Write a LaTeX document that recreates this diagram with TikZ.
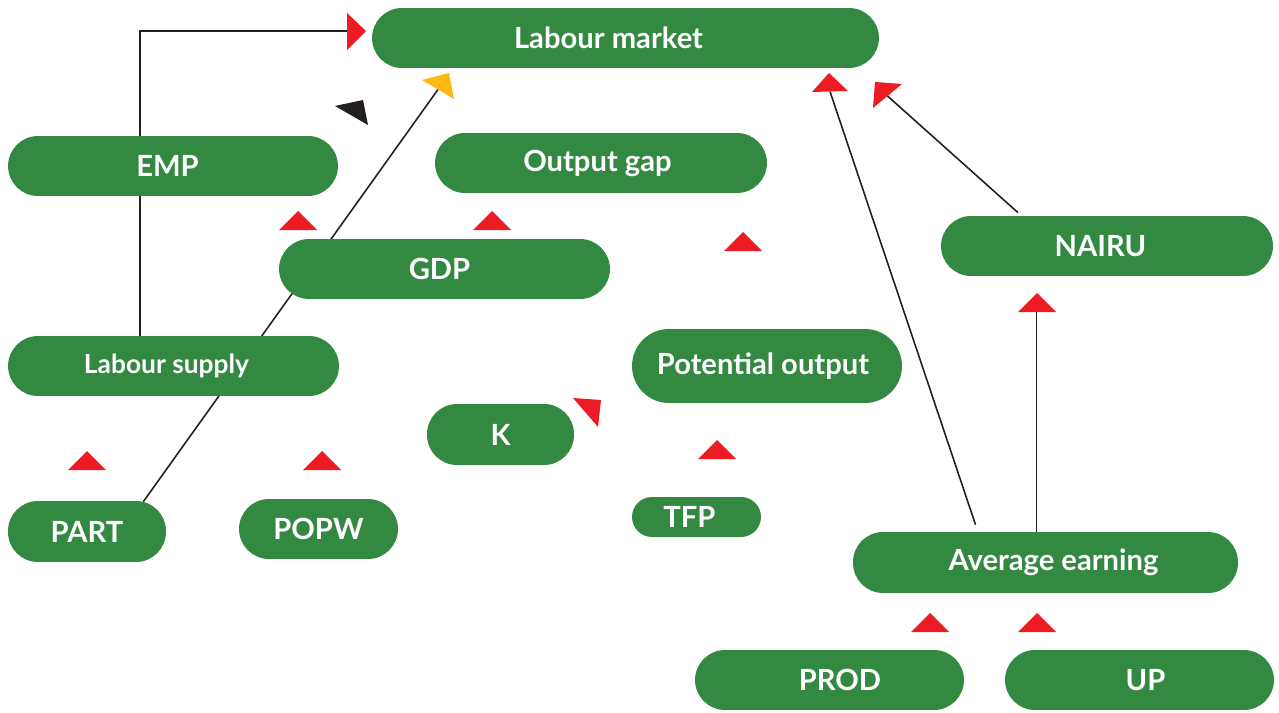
\documentclass[tikz,border=0pt]{standalone}
\usepackage{fontspec}
\setmainfont{Lato}
\usetikzlibrary{positioning,backgrounds}

\definecolor{boxgreen}{RGB}{51,136,66}
\definecolor{tipred}{RGB}{237,28,36}
\definecolor{tipyellow}{RGB}{253,185,19}
\definecolor{tipblack}{RGB}{35,31,32}

\begin{document}
\begin{tikzpicture}[x=0.02cm,y=-0.02cm,
box/.style={fill=boxgreen, text=white, inner sep=0pt, rounded corners=0.6cm,
  minimum height=1.2cm, font=\fontsize{16.6}{19}\selectfont\bfseries},
link/.style={draw=tipblack, line width=0.9pt}
]
\path[use as bounding box] (0,0) rectangle (1279,713);

% boxes
\node[box, minimum width=10.14cm] (market) at (625.5,38) {Labour market\kern0.68cm};
\node[box, minimum width=6.6cm] (emp) at (173,166) {EMP\kern0.22cm};
\node[box, minimum width=6.64cm] (gap) at (601,163) {Output gap\kern0.14cm};
\node[box, minimum width=6.62cm] (gdp) at (444.5,269) {GDP\kern0.2cm};
\node[box, minimum width=6.64cm] (nairu) at (1107,246) {NAIRU\kern0.26cm};
\node[box, minimum width=6.62cm, font=\fontsize{15}{18}\selectfont\bfseries] (supply) at (173.5,366) {Labour supply\kern0.28cm};
\node[box, minimum width=5.4cm, minimum height=1.48cm, rounded corners=0.74cm] (potential) at (767,366) {Potential output\kern0.16cm};
\node[box, minimum width=2.94cm, minimum height=1.22cm] (k) at (500.5,434.5) {K};
\node[box, minimum width=3.16cm, minimum height=1.22cm] (part) at (87,531.5) {PART};
\node[box, minimum width=3.18cm] (popw) at (318.5,529) {POPW};
\node[box, minimum width=2.58cm, minimum height=0.8cm, rounded corners=0.4cm] (tfp) at (696.5,517) {TFP\kern0.28cm};
\node[box, minimum width=7.7cm, minimum height=1.22cm] (earning) at (1045.5,562.5) {\kern0.32cm Average earning};
\node[box, minimum width=5.38cm] (prod) at (829.5,680) {\kern0.42cm PROD};
\node[box, minimum width=5.38cm] (up) at (1139.5,680) {\kern0.24cm UP};

% line ends at the tips
\coordinate (marketin) at (347,31);
\coordinate (yellowin) at (438,89.5);
\coordinate (marketin2) at (830,91.5);
\coordinate (marketin3) at (887.5,96);
\coordinate (nairuin) at (1036.5,312);

\begin{scope}[on background layer]
\draw[link] (supply.north -| 140,0) |- (marketin);
\draw[link] ([shift={(-23,1)}]part.north east) -- (yellowin);
\draw[link] ([shift={(-70,-7)}]earning.north) -- (marketin2);
\draw[link] ([shift={(-89,-3)}]nairu.north) -- (marketin3);
\draw[link] (earning.north -| nairuin) -- (nairuin);
\end{scope}

% tips
\fill[tipred] (347,13) -- (366,31) -- (347,50) -- cycle;
\fill[tipyellow] (422,80) -- (449,73) -- (454,99) -- cycle;
\fill[tipblack] (335,106) -- (363,100) -- (368,125) -- cycle;
\fill[tipred] (812,92) -- (829,73) -- (848,91) -- cycle;
\fill[tipred] (875,82) -- (902,84) -- (873,108) -- cycle;
\fill[tipred] (573,398) -- (601,400) -- (598,427) -- cycle;
\foreach \x/\y in {298/211, 492/211, 743/232, 87/451, 322/451, 717/440, 930/613, 1037/613, 1037/293}
  \fill[tipred] (\x-19,\y+19) -- (\x,\y) -- (\x+19,\y+19) -- cycle;

\end{tikzpicture}
\end{document}
